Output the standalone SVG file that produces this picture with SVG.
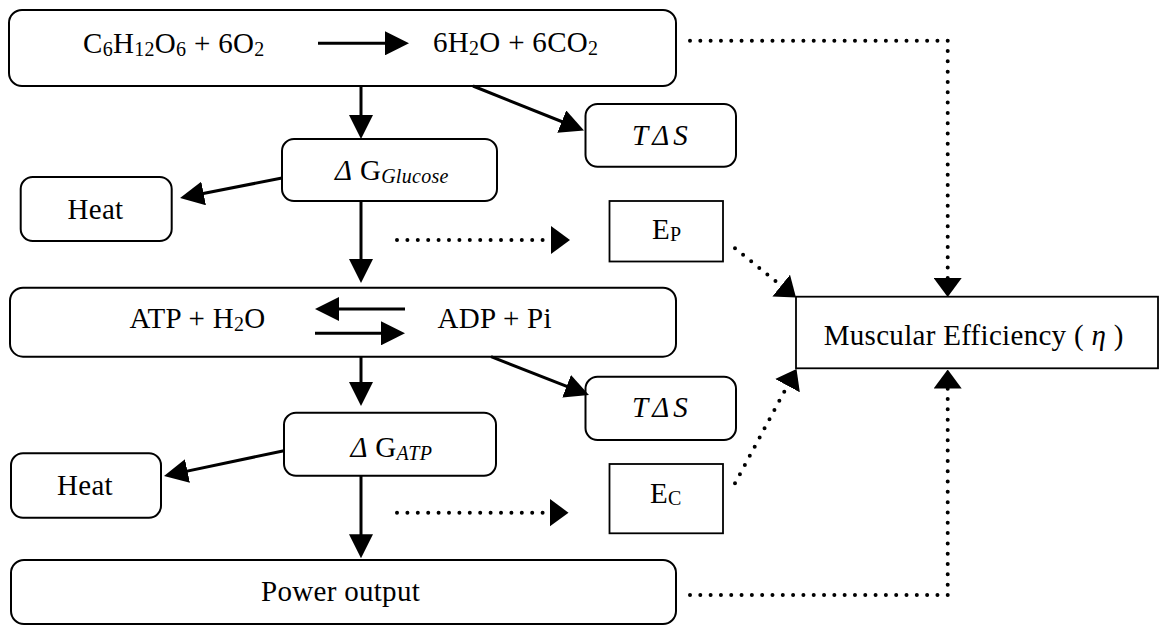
<svg xmlns="http://www.w3.org/2000/svg" width="1159" height="625" viewBox="0 0 1159 625">
  <defs>
    <!-- solid arrowhead: tip sits 8px beyond the end of the line -->
    <marker id="head" markerUnits="userSpaceOnUse" viewBox="0 0 24 24" markerWidth="24" markerHeight="24" refX="16" refY="12" orient="auto">
      <path d="M0,0 L24,12 L0,24 z" fill="#000"/>
    </marker>
    <!-- arrowhead for dotted connectors: base sits at the end of the dotted line -->
    <marker id="dothead" markerUnits="userSpaceOnUse" viewBox="0 0 19 28" markerWidth="19" markerHeight="28" refX="0" refY="14" orient="auto">
      <path d="M0,0 L19,14 L0,28 z" fill="#000"/>
    </marker>
  </defs>
  <style>
    .box { fill: #fff; stroke: #000; stroke-width: 2; }
    .sq { fill: #fff; stroke: #000; stroke-width: 1.8; }
    .arrow { fill: none; stroke: #000; stroke-width: 3; marker-end: url(#head); }
    .dot { fill: none; stroke: #000; stroke-width: 4; stroke-linecap: round; stroke-dasharray: 0 10.4; marker-end: url(#dothead); }
    .dotL { stroke-dasharray: 0 10.31; }
    text { font-family: "Liberation Serif", "Times New Roman", serif; font-size: 29px; fill: #000; letter-spacing: 0.3px; }
    .sub { font-size: 20px; }
    .it { font-style: italic; }
  </style>

  <rect width="1159" height="625" fill="#fff"/>

  <!-- glucose oxidation -->
  <g id="glucose-oxidation">
    <rect class="box" x="9" y="10" width="667" height="76" rx="13"/>
    <text x="83" y="53">C<tspan class="sub" dy="3">6</tspan><tspan dy="-3">H</tspan><tspan class="sub" dy="3">12</tspan><tspan dy="-3">O</tspan><tspan class="sub" dy="3">6</tspan><tspan dy="-3"> + 6O</tspan><tspan class="sub" dy="3">2</tspan></text>
    <text x="433" y="52">6H<tspan class="sub" dy="3">2</tspan><tspan dy="-3">O + 6CO</tspan><tspan class="sub" dy="3">2</tspan></text>
  </g>

  <g id="entropy-glucose">
    <rect class="box" x="585.5" y="104" width="150.5" height="62.7" rx="12"/>
    <text class="it" x="632" y="145" style="letter-spacing:4px">TΔS</text>
  </g>

  <g id="free-energy-glucose">
    <rect class="box" x="282" y="139" width="215" height="62" rx="12"/>
    <text x="335" y="180"><tspan class="it">Δ</tspan> G<tspan class="sub it" dy="3">Glucose</tspan></text>
  </g>

  <g id="heat-glucose">
    <rect class="box" x="20.7" y="177" width="151" height="64" rx="12"/>
    <text x="67.5" y="219.3">Heat</text>
  </g>

  <g id="energy-production">
    <rect class="sq" x="609.5" y="201" width="113.5" height="60.5"/>
    <text x="652" y="239.3">E<tspan class="sub" dy="2">P</tspan></text>
  </g>

  <!-- ATP hydrolysis with equilibrium arrows -->
  <g id="atp-hydrolysis">
    <rect class="box" x="10" y="287.7" width="666" height="69" rx="13"/>
    <text x="129.5" y="327.7">ATP + H<tspan class="sub" dy="3">2</tspan><tspan dy="-3">O</tspan></text>
    <text x="437.5" y="327.7">ADP + Pi</text>
  </g>

  <g id="muscular-efficiency">
    <rect class="sq" x="796" y="296.7" width="362" height="71.6"/>
    <text x="823.7" y="345">Muscular Efficiency ( <tspan class="it">η</tspan> )</text>
  </g>

  <g id="entropy-atp">
    <rect class="box" x="585.5" y="376.7" width="150.5" height="63.3" rx="12"/>
    <text class="it" x="632" y="417.3" style="letter-spacing:4px">TΔS</text>
  </g>

  <g id="free-energy-atp">
    <rect class="box" x="284" y="412.7" width="212" height="63" rx="12"/>
    <text x="350.4" y="456.7"><tspan class="it">Δ</tspan> G<tspan class="sub it" dy="3">ATP</tspan></text>
  </g>

  <g id="heat-atp">
    <rect class="box" x="11" y="453.3" width="150" height="64.4" rx="12"/>
    <text x="57" y="495">Heat</text>
  </g>

  <g id="energy-contraction">
    <rect class="sq" x="609.5" y="464" width="113.5" height="69.3"/>
    <text x="650" y="503.3">E<tspan class="sub" dy="2">C</tspan></text>
  </g>

  <g id="power-output">
    <rect class="box" x="11" y="560" width="665" height="64" rx="13"/>
    <text x="261" y="600.7">Power output</text>
  </g>

  <!-- connectors -->
  <g id="connectors">
    <!-- reaction arrows inside the boxes -->
    <path class="arrow" d="M318,43.3 H401"/>
    <path class="arrow" d="M405,309 H323"/>
    <path class="arrow" d="M315,333.3 H397"/>

    <!-- main chain -->
    <path class="arrow" d="M361,86 V131"/>
    <path class="arrow" d="M361,201 V275"/>
    <path class="arrow" d="M361,356.7 V398"/>
    <path class="arrow" d="M361,475.7 V550.3"/>

    <!-- losses -->
    <path class="arrow" d="M473,86 L576.6,127.5"/>
    <path class="arrow" d="M282,178 L187.9,196.5"/>
    <path class="arrow" d="M491,356.7 L581.5,392.1"/>
    <path class="arrow" d="M284,450.7 L171.8,474.4"/>

    <!-- dotted links -->
    <path class="dot" d="M397,240 H551"/>
    <path class="dot" d="M397,512.7 H549.5"/>
    <path class="dot" d="M735,248.3 L781.2,285.6"/>
    <path class="dot" d="M735,483.3 L787.5,385.7"/>
    <path class="dot dotL" d="M690,40.7 H947.7 V278"/>
    <path class="dot dotL" d="M690,595 H947.7 V388.5"/>
  </g>
</svg>
